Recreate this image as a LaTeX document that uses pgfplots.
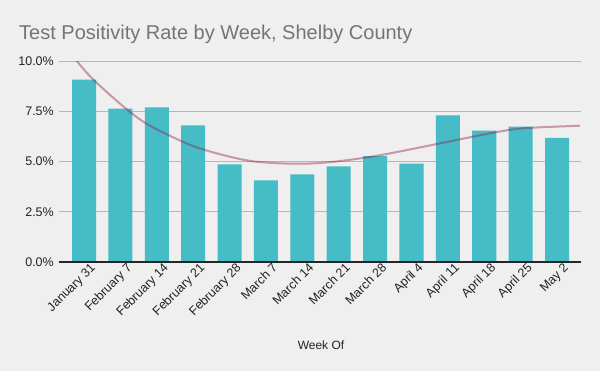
\documentclass[border=0pt]{standalone}
\usepackage{pgfplots}
\pgfplotsset{compat=1.18}
\usepackage{fontspec}
\setmainfont{Liberation Sans}
\definecolor{bg}{HTML}{EFEFEF}
\definecolor{barc}{HTML}{46BDC6}
\definecolor{gridc}{HTML}{B7B7B7}
\definecolor{trendc}{RGB}{141,30,70}
\definecolor{titlec}{HTML}{757575}
\definecolor{txt}{HTML}{222222}
\pgfplotstableread{
x y
0 9.07
1 7.63
2 7.69
3 6.80
4 4.86
5 4.06
6 4.36
7 4.76
8 5.27
9 4.90
10 7.29
11 6.54
12 6.74
13 6.18
}\bars
\pgfplotstableread{
x y
-0.35 10.35
-0.2 10.0
0.255 9.07
1.17 7.6
1.81 6.78
2.91 5.83
3.74 5.36
4.56 5.03
5.38 4.91
6.21 4.90
7.03 5.02
8.13 5.31
9.78 5.90
11.15 6.40
12.06 6.65
13.63 6.78
}\trend
\begin{document}
\begin{tikzpicture}[x=1bp,y=1bp]
\fill[bg] (-59,-109) rectangle (541,262);
\useasboundingbox (-59,-109) rectangle (541,262);
\begin{axis}[
  at={(0,0)}, anchor=south west,
  scale only axis, width=522bp, height=201bp,
  xmin=-0.69, xmax=13.66, ymin=0, ymax=10,
  axis x line*=bottom, axis y line*=left,
  x axis line style={draw=black!85, line width=1.2bp, -},
  y axis line style={draw=none, -},
  ymajorgrids, grid style={gridc, line width=0.8bp},
  major tick length=0pt,
  ytick={0,2.5,5,7.5,10},
  yticklabels={0.0\%,2.5\%,5.0\%,7.5\%,10.0\%},
  xtick={0,...,13},
  xticklabels={January 31,February 7,February 14,February 21,February 28,March 7,March 14,March 21,March 28,April 4,April 11,April 18,April 25,May 2},
  xticklabel style={font=\fontsize{12.5bp}{14bp}\selectfont, text=txt, rotate=45, anchor=north east, inner sep=1bp, xshift=5bp, yshift=-3bp},
  yticklabel style={font=\fontsize{12.5bp}{14bp}\selectfont, text=txt, inner sep=2bp, xshift=-3bp},
  clip=true,
]
\addplot[ybar, bar width=0.66, fill=barc, draw=none, bar shift=0] table[x=x,y=y]{\bars};
\addplot[smooth, draw=trendc, draw opacity=0.42, line width=2bp, no marks] table[x=x,y=y]{\trend};
\end{axis}
\draw[black!85, line width=1.2bp] (0,0) -- (522,0);
\node[anchor=base west, font=\fontsize{20bp}{24bp}\selectfont, text=titlec, inner sep=0] at (-40,223) {Test Positivity Rate by Week, Shelby County};
\node[anchor=center, font=\fontsize{12bp}{14bp}\selectfont, text=txt] at (262,-83) {Week Of};
\end{tikzpicture}
\end{document}
